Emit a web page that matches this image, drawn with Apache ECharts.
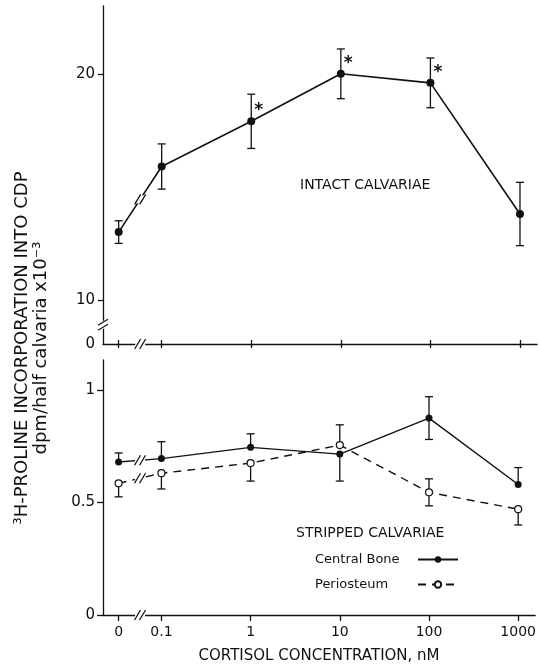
<!DOCTYPE html>
<html><head><meta charset="utf-8">
<script src="https://cdn.jsdelivr.net/npm/echarts@6/dist/echarts.min.js"></script>
<style>html,body{margin:0;padding:0;background:#fff}#c{width:539px;height:667px}</style>
</head><body><div id="c"></div>
<script>
// ---- data ----
const categories = ['0', '0.1', '1', '10', '100', '1000'];          // cortisol, nM
const xPositions = [-1.48, -1, 0, 1, 2, 3];                          // log10 scale; "0" sits left of the axis break
const intactMean = [13.0, 15.9, 17.9, 20.0, 19.6, 13.8];
const intactErr = [0.5, 1.0, 1.2, 1.1, 1.1, 1.4];
const intactSignificant = [0, 0, 1, 1, 1, 0];
const centralMean = [0.68, 0.695, 0.745, 0.715, 0.875, 0.58];
const centralErrUp = [0.04, 0.075, 0.06, 0, 0.095, 0.075];
const centralErrDown = [0, 0, 0, 0.12, 0.095, 0];
const periMean = [0.585, 0.63, 0.675, 0.755, 0.545, 0.47];
const periErrUp = [0, 0, 0, 0.09, 0.06, 0];
const periErrDown = [0.06, 0.07, 0.08, 0, 0.06, 0.07];
const topTickValues = [10, 20];
const bottomTickValues = [0, 0.5, 1];

// ---- axis ranges ----
const XMIN = -1.655, XMAX = 3.19;
const TOP_MIN = 8.05, TOP_MAX = 23.0, TOP_BREAK = 8.9;
const BOT_MIN = 0, BOT_MAX = 1.133;

const FONT = 'DejaVu Sans';
const INK = '#111';
const axisStyle = { color: INK, width: 1.3 };

function nearestIdx(v) {
  let best = 0;
  xPositions.forEach((p, i) => { if (Math.abs(p - v) < Math.abs(xPositions[best] - v)) best = i; });
  return best;
}

function errData(mean, up, down, stars) {
  return mean.map((m, i) => [xPositions[i], m - down[i], m + up[i], m, stars ? stars[i] : 0]);
}

function errRender(params, api) {
  const x = api.value(0), lo = api.value(1), hi = api.value(2), y = api.value(3), star = api.value(4);
  const pLo = api.coord([x, lo]), pHi = api.coord([x, hi]), p = api.coord([x, y]);
  const st = { stroke: INK, lineWidth: 1.3 };
  const ch = [];
  if (hi > lo) ch.push({ type: 'line', shape: { x1: pLo[0], y1: pLo[1], x2: pHi[0], y2: pHi[1] }, style: st });
  if (hi > y) ch.push({ type: 'line', shape: { x1: pHi[0] - 4, y1: pHi[1], x2: pHi[0] + 4, y2: pHi[1] }, style: st });
  if (lo < y) ch.push({ type: 'line', shape: { x1: pLo[0] - 4, y1: pLo[1], x2: pLo[0] + 4, y2: pLo[1] }, style: st });
  if (star) ch.push({ type: 'text', x: p[0] + 3, y: p[1] - 19, style: { text: '*', fontSize: 17, fontWeight: 'bold', fontFamily: FONT, fill: INK } });
  return { type: 'group', children: ch };
}

function breakRender(params, api) {
  const p = api.coord([api.value(0), api.value(1)]);
  const vertical = api.value(2);
  const st = { stroke: INK, lineWidth: 1.3 };
  const ch = [];
  ch.push({ type: 'rect', shape: vertical ? { x: p[0] - 4, y: p[1] - 4, width: 8, height: 8 } : { x: p[0] - 5, y: p[1] - 4, width: 10, height: 8 }, style: { fill: '#fff' } });
  [-2.5, 2.5].forEach(d => {
    if (vertical) ch.push({ type: 'line', shape: { x1: p[0] - 5, y1: p[1] + d + 3, x2: p[0] + 5, y2: p[1] + d - 3 }, style: st });
    else ch.push({ type: 'line', shape: { x1: p[0] + d - 3, y1: p[1] + 5, x2: p[0] + d + 3, y2: p[1] - 5 }, style: st });
  });
  return { type: 'group', children: ch };
}

const midX = (xPositions[0] + xPositions[1]) / 2;
const topBreaks = [
  [midX, TOP_MIN, 0],
  [XMIN, TOP_BREAK, 1],
  [midX, (intactMean[0] + intactMean[1]) / 2, 0]
];
const bottomBreaks = [
  [midX, BOT_MIN, 0],
  [midX, (centralMean[0] + centralMean[1]) / 2, 0],
  [midX, (periMean[0] + periMean[1]) / 2, 0]
];

const chart = echarts.init(document.getElementById('c'), null, { renderer: 'canvas' });
chart.setOption({
  animation: false,
  backgroundColor: '#fff',
  textStyle: { fontFamily: FONT, color: INK },
  grid: [
    { left: 103, right: 2, top: 6, height: 338 },
    { left: 103, right: 2, top: 360, height: 255 }
  ],
  xAxis: [
    { gridIndex: 0, type: 'value', min: XMIN, max: XMAX, axisLine: { onZero: false, lineStyle: axisStyle },
      axisTick: { customValues: xPositions, length: 4, lineStyle: axisStyle }, axisLabel: { show: false }, splitLine: { show: false } },
    { gridIndex: 0, type: 'value', position: 'bottom', offset: 0, min: XMIN, max: XMAX, axisLine: { show: false, onZero: false },
      axisTick: { customValues: xPositions, inside: true, length: 4, lineStyle: axisStyle }, axisLabel: { show: false }, splitLine: { show: false } },
    { gridIndex: 1, type: 'value', min: XMIN, max: XMAX, axisLine: { onZero: false, lineStyle: axisStyle },
      axisTick: { customValues: xPositions, length: 6, lineStyle: axisStyle },
      axisLabel: { customValues: xPositions, formatter: v => categories[nearestIdx(v)], fontSize: 14, color: INK, fontFamily: FONT, margin: 10 },
      splitLine: { show: false },
      name: 'CORTISOL CONCENTRATION, nM', nameLocation: 'middle', nameGap: 34,
      nameTextStyle: { fontSize: 15, color: INK, fontFamily: FONT } }
  ],
  yAxis: [
    { gridIndex: 0, type: 'value', min: TOP_MIN, max: TOP_MAX, axisLine: { show: true, onZero: false, lineStyle: axisStyle },
      axisTick: { show: true, customValues: topTickValues, length: 5, lineStyle: axisStyle },
      axisLabel: { customValues: [TOP_MIN].concat(topTickValues), formatter: v => (v < 9 ? '0' : String(v)), fontSize: 15, color: INK, fontFamily: FONT, margin: 8 },
      splitLine: { show: false } },
    { gridIndex: 1, type: 'value', min: BOT_MIN, max: BOT_MAX, axisLine: { show: true, onZero: false, lineStyle: axisStyle },
      axisTick: { show: true, customValues: bottomTickValues, length: 6, lineStyle: axisStyle },
      axisLabel: { customValues: bottomTickValues, formatter: v => String(v), fontSize: 15, color: INK, fontFamily: FONT, margin: 8 },
      splitLine: { show: false } }
  ],
  legend: {
    data: ['Central Bone', 'Periosteum'],
    orient: 'vertical', left: 310, top: 548, align: 'right', selectedMode: false,
    itemWidth: 40, itemHeight: 8, itemGap: 12,
    formatter: '{a|{name}}',
    textStyle: { fontFamily: FONT, fontSize: 13, color: INK,
      rich: { a: { width: 98, align: 'left', fontFamily: FONT, fontSize: 13, color: INK } } }
  },
  graphic: [
    { type: 'text', left: 300, top: 178, style: { text: 'INTACT CALVARIAE', font: '14px "DejaVu Sans"', fill: INK } },
    { type: 'text', left: 296, top: 526, style: { text: 'STRIPPED CALVARIAE', font: '14px "DejaVu Sans"', fill: INK } },
    { type: 'text', x: 32, y: 348, rotation: Math.PI / 2,
      style: { text: '³H-PROLINE INCORPORATION INTO CDP\ndpm/half calvaria x10⁻³', font: '18px "DejaVu Sans"', fill: INK,
        align: 'center', verticalAlign: 'middle', textAlign: 'center', textVerticalAlign: 'middle', lineHeight: 19 } }
  ],
  series: [
    { name: 'Intact', type: 'line', xAxisIndex: 0, yAxisIndex: 0, z: 5,
      data: xPositions.map((x, i) => [x, intactMean[i]]),
      symbol: 'circle', symbolSize: 8, itemStyle: { color: INK }, lineStyle: { color: INK, width: 1.6 } },
    { name: 'IntactErr', type: 'custom', xAxisIndex: 0, yAxisIndex: 0, z: 4,
      data: errData(intactMean, intactErr, intactErr, intactSignificant), encode: { x: 0, y: [1, 2] }, renderItem: errRender },
    { name: 'TopBreaks', type: 'custom', xAxisIndex: 0, yAxisIndex: 0, z: 10, clip: false,
      data: topBreaks, encode: { x: 0, y: 1 }, renderItem: breakRender },
    { name: 'Central Bone', type: 'line', xAxisIndex: 2, yAxisIndex: 1, z: 6,
      data: xPositions.map((x, i) => [x, centralMean[i]]),
      symbol: 'circle', symbolSize: 7, itemStyle: { color: INK }, lineStyle: { color: INK, width: 1.4 } },
    { name: 'Periosteum', type: 'line', xAxisIndex: 2, yAxisIndex: 1, z: 6,
      data: xPositions.map((x, i) => [x, periMean[i]]),
      symbol: 'circle', symbolSize: 7, itemStyle: { color: '#fff', borderColor: INK, borderWidth: 1.2 },
      lineStyle: { color: INK, width: 1.4, type: [8, 6] } },
    { name: 'StrippedErr', type: 'custom', xAxisIndex: 2, yAxisIndex: 1, z: 4,
      data: errData(centralMean, centralErrUp, centralErrDown).concat(errData(periMean, periErrUp, periErrDown)),
      encode: { x: 0, y: [1, 2] }, renderItem: errRender },
    { name: 'BottomBreaks', type: 'custom', xAxisIndex: 2, yAxisIndex: 1, z: 10, clip: false,
      data: bottomBreaks, encode: { x: 0, y: 1 }, renderItem: breakRender }
  ]
});
</script>
</body></html>
